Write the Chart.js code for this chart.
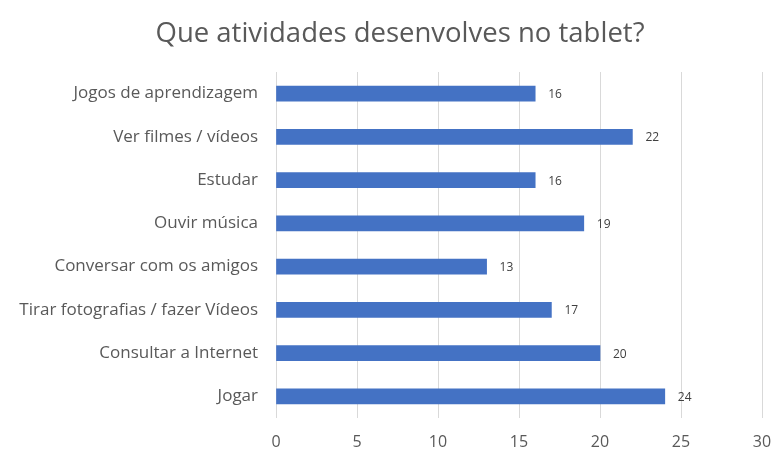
<!DOCTYPE html>
<html lang="pt">
<head>
    <meta charset="UTF-8">
    <title>Que atividades desenvolves no tablet?</title>
    <script src="https://cdn.jsdelivr.net/npm/chart.js"></script>
    <style>
        html, body { margin: 0; padding: 0; background: #fff; }
        .chart-box { width: 775px; height: 450px; }
    </style>
</head>
<body>
    <div class="chart-box">
        <canvas id="myChart" width="775" height="450"></canvas>
    </div>
    <script>
        // dados do gráfico
        const titulo = 'Que atividades desenvolves no tablet?';
        const categorias = [
            'Jogos de aprendizagem',
            'Ver filmes / vídeos',
            'Estudar',
            'Ouvir música',
            'Conversar com os amigos',
            'Tirar fotografias / fazer Vídeos',
            'Consultar a Internet',
            'Jogar'
        ];
        const respostas = [16, 22, 16, 19, 13, 17, 20, 24];
        const eixoMin = 0;
        const eixoMax = 30;
        const eixoPasso = 5;

        // título desenhado à mão (no original está um pouco à direita do centro)
        const tituloCentrado = {
            id: 'tituloCentrado',
            afterDraw(chart) {
                const ctx = chart.ctx;
                ctx.save();
                ctx.font = '27.5px "Open Sans"';
                ctx.fillStyle = '#595959';
                ctx.textAlign = 'center';
                ctx.textBaseline = 'middle';
                ctx.fillText(titulo, 400, 34);
                ctx.restore();
            }
        };

        // escreve o valor à direita de cada barra
        const rotulosValores = {
            id: 'rotulosValores',
            afterDatasetsDraw(chart) {
                const ctx = chart.ctx;
                const meta = chart.getDatasetMeta(0);
                ctx.save();
                ctx.font = '12px "Open Sans"';
                ctx.fillStyle = '#404040';
                ctx.textAlign = 'left';
                ctx.textBaseline = 'middle';
                meta.data.forEach((bar, i) => {
                    ctx.fillText(respostas[i], bar.x + 13, bar.y + 1);
                });
                ctx.restore();
            }
        };

        const ctx = document.getElementById('myChart').getContext('2d');
        new Chart(ctx, {
            type: 'bar',
            data: {
                labels: categorias,
                datasets: [{
                    data: respostas,
                    backgroundColor: '#4472C4',
                    borderWidth: 0,
                    barThickness: 15
                }]
            },
            options: {
                indexAxis: 'y',
                responsive: false,
                animation: false,
                layout: { padding: { top: 72, right: 13, bottom: 0, left: 0 } },
                plugins: {
                    legend: { display: false },
                    tooltip: { enabled: false },
                    title: { display: false }
                },
                scales: {
                    x: {
                        min: eixoMin,
                        max: eixoMax,
                        ticks: {
                            stepSize: eixoPasso,
                            color: '#595959',
                            font: { family: '"Open Sans"', size: 16 },
                            padding: 15
                        },
                        grid: { color: '#d9d9d9', drawTicks: false },
                        border: { display: false },
                        afterFit(scale) {
                            scale.height = 32;
                            scale.paddingRight = 0;
                        }
                    },
                    y: {
                        ticks: {
                            color: '#595959',
                            font: { family: '"Open Sans"', size: 17 },
                            padding: 10
                        },
                        grid: { display: false },
                        border: { display: false },
                        afterFit(scale) { scale.width = 276; }
                    }
                }
            },
            plugins: [rotulosValores, tituloCentrado]
        });
    </script>
</body>
</html>
